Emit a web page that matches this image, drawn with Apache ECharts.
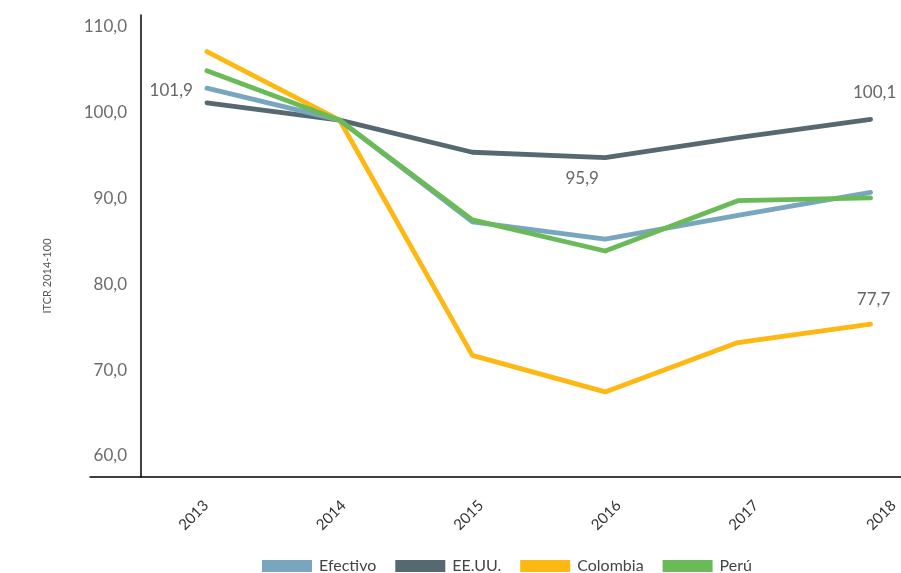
<!DOCTYPE html>
<html>
<head>
<meta charset="utf-8">
<script src="https://cdn.jsdelivr.net/npm/echarts@6/dist/echarts.min.js"></script>
<style>
html,body{margin:0;padding:0;background:#fff;}
#chart{width:901px;height:573px;}
</style>
</head>
<body>
<div id="chart"></div>
<script>
// ---- data ----
const years = [2013, 2014, 2015, 2016, 2017, 2018];
const seriesNames = ['Efectivo', 'EE.UU.', 'Colombia', 'Perú'];
const efectivo = [103.5, 100.0, 88.9, 87.0, 89.6, 92.1];
const eeuu     = [101.9, 100.0, 96.5, 95.9, 98.1, 100.1];
const colombia = [107.5, 100.0, 74.3, 70.3, 75.7, 77.7];
const peru     = [105.4, 100.0, 89.1, 85.7, 91.2, 91.5];
const yTickLabels = [60, 70, 80, 90, 100, 110];
const yAxisName = 'ITCR 2014-100';

const colors = {
  'Efectivo': '#79a6bf',
  'EE.UU.': '#566970',
  'Colombia': '#fdb813',
  'Perú': '#6abb57'
};
const values = { 'Efectivo': efectivo, 'EE.UU.': eeuu, 'Colombia': colombia, 'Perú': peru };

const fmt = v => v.toFixed(1).replace('.', ',');
const FONT = 'Lato, "Open Sans", sans-serif';

// label placement per (series,index)
const labelStyle = {
  'EE.UU.|0': { position: 'left', distance: 14, offset: [0, -12] },
  'EE.UU.|3': { position: 'bottom', distance: 12, offset: [-23, 0] },
  'EE.UU.|5': { position: 'top', distance: 18, offset: [4, 0] },
  'Colombia|5': { position: 'top', distance: 16, offset: [3, 0] }
};

function buildData(name) {
  return years.map((y, i) => {
    const item = { value: [y, values[name][i]] };
    const key = name + '|' + i;
    if (labelStyle[key]) {
      item.label = Object.assign({
        show: true,
        formatter: p => fmt(p.value[1]),
        fontFamily: FONT,
        fontSize: 17,
        color: '#666666'
      }, labelStyle[key]);
    }
    return item;
  });
}

// draw order: EE.UU. bottom, then Colombia, Efectivo, Perú on top
const drawOrder = ['EE.UU.', 'Colombia', 'Efectivo', 'Perú'];

const series = drawOrder.map(name => ({
  name: name,
  type: 'line',
  xAxisIndex: 0,
  yAxisIndex: 0,
  data: buildData(name),
  showSymbol: true,
  symbol: 'circle',
  symbolSize: 0.1,
  itemStyle: { color: colors[name] },
  lineStyle: { color: colors[name], width: 4.8, cap: 'round', join: 'round' },
  label: { show: false },
  emphasis: { disabled: true },
  z: 2
}));

const chart = echarts.init(document.getElementById('chart'), null, { renderer: 'canvas' });
chart.setOption({
  animation: false,
  backgroundColor: '#ffffff',
  grid: { left: 90, right: 0, top: 15, bottom: 96 },
  legend: {
    data: seriesNames,
    left: 262,
    top: 558,
    padding: 0,
    icon: 'rect',
    itemWidth: 50,
    itemHeight: 12,
    itemGap: 19,
    textStyle: { fontFamily: FONT, fontSize: 16, color: '#444444', padding: [0, 0, 0, 2] }
  },
  xAxis: [
    { // data axis (hidden)
      type: 'value', min: 2012.119, max: 2018.226, show: false
    },
    { // visible label axis
      type: 'value', min: 2012.157, max: 2018.051, position: 'bottom',
      axisLine: { show: true, lineStyle: { color: '#000000', width: 1.5 } },
      axisTick: { show: false },
      splitLine: { show: false },
      axisLabel: {
        customValues: years,
        rotate: 45,
        margin: 26,
        fontFamily: FONT,
        fontSize: 15,
        color: '#333333',
        formatter: v => String(v)
      }
    }
  ],
  yAxis: [
    { // data axis (hidden)
      type: 'value', min: 61.0, max: 111.5, show: false
    },
    { // visible label axis
      type: 'value', min: 57.55, max: 111.36, position: 'left', offset: -51,
      axisLine: { show: true, lineStyle: { color: '#000000', width: 1.5 } },
      axisTick: { show: false },
      splitLine: { show: false },
      axisLabel: {
        customValues: yTickLabels,
        margin: 14,
        fontFamily: FONT,
        fontSize: 17,
        color: '#6b6b6b',
        formatter: v => fmt(v)
      },
      name: yAxisName,
      nameLocation: 'middle',
      nameGap: 88,
      nameTextStyle: { fontFamily: FONT, fontSize: 11, color: '#555555', padding: [0, 60, 0, 0] }
    }
  ],
  series: series
});
</script>
</body>
</html>
